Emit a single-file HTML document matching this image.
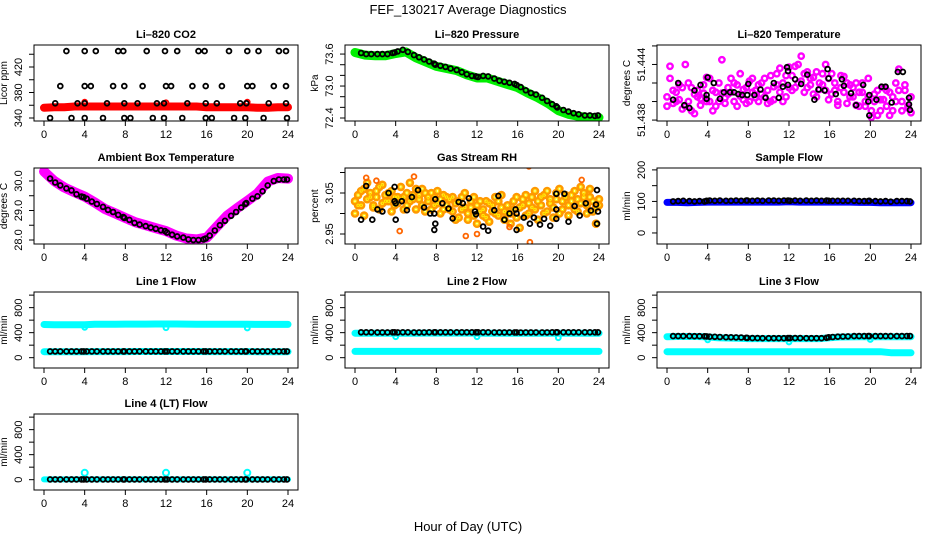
<!DOCTYPE html>
<html><head><meta charset="utf-8"><style>
body{margin:0;background:#fff;}
svg{display:block;font-family:"Liberation Sans",sans-serif;}
</style></head><body>
<svg id="c" width="936" height="540" viewBox="0 0 936 540">
<text x="468" y="14" text-anchor="middle" font-size="13">FEF_130217  Average Diagnostics</text>
<text x="468" y="531" text-anchor="middle" font-size="13">Hour of Day (UTC)</text>
</svg>
<script>
// ---------- data ----------
const hours=[0,1,2,3,4,5,6,7,8,9,10,11,12,13,14,15,16,17,18,19,20,21,22,23,24];
const xTicks=[0,4,8,12,16,20,24];
const blackT=[0.6,1.1,1.6,2.2,2.7,3.2,3.7,3.9,4.2,4.7,5.2,5.8,6.3,6.8,7.3,7.8,7.9,8.4,8.9,9.4,10.0,10.5,11.0,11.5,11.9,12.1,12.6,13.1,13.7,14.2,14.7,15.2,15.7,15.9,16.3,16.8,17.3,17.8,18.4,18.9,19.4,19.8,19.9,20.5,21.0,21.5,22.0,22.6,23.1,23.6,23.9];
const cloudT=[0,0.3,0.6,0.9,1.2,1.5,1.8,2.1,2.4,2.7,3.0,3.3,3.6,3.9,4.2,4.5,4.8,5.1,5.4,5.7,6.0,6.3,6.6,6.9,7.2,7.5,7.8,8.1,8.4,8.7,9.0,9.3,9.6,9.9,10.2,10.5,10.8,11.1,11.4,11.7,12.0,12.3,12.6,12.9,13.2,13.5,13.8,14.1,14.4,14.7,15.0,15.3,15.6,15.9,16.2,16.5,16.8,17.1,17.4,17.7,18.0,18.3,18.6,18.9,19.2,19.5,19.8,20.1,20.4,20.7,21.0,21.3,21.6,21.9,22.2,22.5,22.8,23.1,23.4,23.7,24.0];
const dipT=[4,12,20];

// CO2
const co2Red=[356,357,357,358,358,358,358,358,358,358,358,358,358,358,358,358,357,357,357,357,357,356,356,357,357];
const co2RedOutV=[365,364,365];
const co2BlkT=[2.2,4,5.1,7.3,7.8,10.1,11.9,13.1,15.2,15.8,18.2,20,21.1,23.1,23.8, 1.6,4,4.6,6.8,7.9,9.7,12,12.5,14.6,15.9,17.5,20,20.5,22.6,23.8, 1.1,3.3,4,6.2,7.9,9.2,11.1,11.8,14.1,15.9,17,19.3,19.9,22.1,23.8, 0.6,2.7,4,5.8,7.9,8.5,10.7,11.8,13.6,15.9,16.5,18.7,19.8,21.6,23.9];
const co2BlkV=[445,445,445,445,445,445,445,445,445,445,445,445,445,445,445, 390,390,390,390,390,390,390,390,390,390,390,390,390,390,390, 363,363,363,363,363,363,363,363,363,363,363,363,363,363,363, 340,340,340,340,340,340,340,340,340,340,340,340,340,340,340];
// Pressure
const presGreen=[73.63,73.58,73.57,73.57,73.61,73.64,73.53,73.45,73.37,73.33,73.29,73.21,73.15,73.15,73.09,73.03,72.97,72.87,72.78,72.67,72.54,72.47,72.43,72.41,72.41];
const presBlk=[73.62,73.60,73.60,73.60,73.60,73.60,73.62,73.63,73.65,73.68,73.64,73.58,73.54,73.50,73.46,73.42,73.40,73.38,73.36,73.33,73.30,73.26,73.22,73.19,73.18,73.17,73.19,73.18,73.14,73.10,73.08,73.06,73.04,73.02,72.98,72.92,72.87,72.84,72.78,72.72,72.66,72.62,72.60,72.55,72.52,72.49,72.47,72.45,72.45,72.44,72.45];
// Li-820 temperature
const tempMagA=[51.4405,51.4425,51.4398,51.4410,51.4402,51.4415,51.4395,51.4420,51.4390,51.4408,51.4412,
51.4403,51.4418,51.4426,51.4400,51.4412,51.4395,51.4420,51.4409,51.4404,51.4415,
51.4425,51.4400,51.4418,51.4406,51.4413,51.4398,51.4422,51.4410,51.4404,51.4418,
51.4408,51.4425,51.4412,51.4400,51.4416,51.4430,51.4410,51.4420,51.4405,51.4437,
51.4428,51.4415,51.4440,51.4422,51.4410,51.4432,51.4418,51.4426,51.4405,51.4420,
51.4430,51.4412,51.4425,51.4408,51.4420,51.4400,51.4415,51.4427,51.4398,51.4418,
51.4405,51.4420,51.4395,51.4410,51.4400,51.4425,51.4390,51.4408,51.4385,51.4402,
51.4415,51.4395,51.4410,51.4390,51.4420,51.4435,51.4400,51.4412,51.4393,51.4405];
const tempMagB=[51.4395,51.4438,51.4412,51.4400,51.4418,51.4392,51.4440,51.4400,51.4415,51.4387,51.4405,
51.4396,51.4409,51.4400,51.4425,51.4390,51.4410,51.4400,51.4445,51.4398,51.4408,
51.4410,51.4420,51.4395,51.4430,51.4402,51.4415,51.4400,51.4425,51.4412,51.4400,
51.4420,51.4405,51.4398,51.4428,51.4402,51.4418,51.4436,51.4400,51.4428,51.4415,
51.4412,51.4438,51.4420,51.4449,51.4430,51.4415,51.4425,51.4408,51.4432,51.4413,
51.4418,51.4440,51.4402,51.4430,51.4412,51.4396,51.4428,51.4410,51.4420,51.4405,
51.4415,51.4396,51.4410,51.4420,51.4395,51.4405,51.4383,51.4400,51.4412,51.4390,
51.4402,51.4412,51.4385,51.4405,51.4400,51.4412,51.4390,51.4418,51.4395,51.4388];
const tempBlkT=[0.6,1.1,1.7,2.2,2.7,3.3,3.9,3.9,4.0,4.6,5.2,5.6,6.2,6.6,7.0,7.4,7.9,8.0,8.6,9.2,9.7,10.5,11.0,11.4,11.8,11.9,11.9,12.6,13.2,13.8,14.5,14.9,15.5,15.8,15.9,16.6,17.2,17.4,18.1,18.6,19.3,19.9,19.8,19.9,20.6,21.1,21.5,22.1,22.7,23.2,23.8,23.8,23.9];
const tempBlkV=[51.4402,51.4420,51.4396,51.4393,51.4412,51.4418,51.4407,51.4403,51.4426,51.4420,51.4403,51.4410,51.4410,51.4410,51.4408,51.4407,51.4407,51.4419,51.4407,51.4413,51.4404,51.4420,51.4404,51.4416,51.4437,51.4433,51.4418,51.4424,51.4419,51.4429,51.4402,51.4413,51.4412,51.4435,51.4425,51.4408,51.4424,51.4417,51.4409,51.4396,51.4418,51.4407,51.4400,51.4385,51.4402,51.4416,51.4416,51.4399,51.4432,51.4432,51.4397,51.4404,51.4391];
// Ambient box temperature
const ambMag=[30.32,30.0,29.78,29.62,29.47,29.27,29.05,28.9,28.75,28.6,28.5,28.4,28.3,28.15,28.05,28.02,28.08,28.45,28.82,29.08,29.32,29.58,29.98,30.1,30.08];
const ambBlk=[30.08,29.95,29.85,29.75,29.68,29.55,29.47,29.45,29.40,29.30,29.22,29.12,29.02,28.95,28.85,28.78,28.75,28.68,28.58,28.52,28.47,28.42,28.38,28.33,28.30,28.25,28.18,28.12,28.08,28.02,28.0,28.0,28.02,28.05,28.15,28.32,28.50,28.65,28.82,28.95,29.10,29.22,29.25,29.40,29.48,29.65,29.85,30.0,30.05,30.05,30.05];
// Gas stream RH
const rhOrA=[3.030,3.045,3.020,3.060,3.035,3.050,3.015,3.040,3.065,3.025,3.045,
3.030,3.055,3.020,3.040,3.035,3.010,3.050,3.030,3.045,3.060,
3.035,3.020,3.050,3.030,3.010,3.040,3.025,3.000,3.045,3.020,
3.035,3.005,3.025,2.990,3.040,3.015,3.000,3.030,2.995,3.020,
3.030,3.010,2.990,3.025,3.005,3.040,2.995,3.015,2.985,3.020,
3.000,3.030,2.990,3.015,3.035,2.995,3.025,3.040,3.010,3.030,
3.020,3.045,3.005,3.035,3.015,3.050,3.000,3.030,3.040,3.020,
3.045,3.010,3.035,3.025,3.050,3.000,3.040,3.030,3.015,3.035];
const rhOrB=[3.000,3.020,3.055,2.995,3.075,3.040,3.020,3.055,3.010,3.070,3.030,
3.050,3.005,3.040,3.025,3.065,3.040,3.020,3.075,3.035,3.010,
3.045,3.060,3.005,3.040,3.050,3.020,3.055,3.035,3.010,3.040,
3.010,3.040,2.985,3.030,3.010,3.050,2.985,3.015,3.040,2.975,
3.005,2.995,3.030,2.980,3.020,3.000,3.030,3.045,3.005,3.000,
2.975,3.010,3.040,2.965,3.020,3.045,3.000,3.015,3.055,2.985,
3.040,3.000,3.055,3.025,2.990,3.035,3.060,3.010,3.045,2.995,
3.030,3.055,3.005,3.065,3.040,3.020,3.060,3.005,2.975,3.020];
const rhOutT=[1.1,2.1,5.8,4.4,10.9,12.0,17.1,17.2,22.3,15.2];
const rhOutV=[3.087,3.080,3.090,2.957,2.945,2.950,3.115,2.930,3.082,2.967];
const rhBlkT=[0.6,1.1,1.7,2.2,2.7,3.3,3.9,3.9,4.0,4.0,4.6,5.1,5.6,6.2,6.8,7.4,7.8,7.9,7.9,7.8,8.6,9.2,9.6,10.2,10.6,11.2,11.8,11.9,12.6,13.1,13.7,14.1,14.7,15.2,15.8,15.9,15.9,16.6,17.2,17.6,18.2,18.6,19.2,19.8,19.8,19.8,20.6,21.0,21.6,22.1,22.7,23.2,23.7,23.8,23.9,23.8];
const rhBlkV=[2.985,3.067,2.985,3.010,3.005,3.050,3.065,3.030,3.025,2.985,3.030,3.008,3.040,3.057,3.015,3.000,3.000,3.035,2.975,2.960,3.025,3.012,2.988,3.028,3.025,3.037,3.005,2.998,2.968,2.958,3.008,3.043,2.985,3.000,3.010,2.960,3.000,2.990,2.975,2.990,2.973,2.987,2.970,3.048,3.010,2.987,3.048,2.980,3.018,2.995,3.025,3.007,3.022,3.057,3.005,2.975];
// Sample flow
const sampBlue=[97,97,96,97,98,98,98,98,98,98,98,98,99,98,98,98,98,98,98,97,97,96,96,96,96];
const sampBlk=[100,101,102,101,100,101,100,102,103,102,103,102,102,103,102,103,103,102,103,102,103,103,102,103,103,102,103,102,103,102,103,102,103,102,102,102,102,102,102,101,101,101,102,101,100,101,99,101,101,101,100];
// Line 1
const l1Hi=[530,528,528,528,528,535,535,535,537,537,537,538,538,538,537,536,536,535,534,534,533,532,532,532,532];
const l1Lo=[95,96,96,96,96,97,97,97,97,98,98,98,98,98,98,98,97,97,97,97,97,96,96,96,96];
const l1DipV=[485,480,475];
const l1Blk=[100,101,101,100,100,101,101,100,101,101,100,100,101,101,100,101,101,100,101,100,100,101,101,100,101,101,100,101,100,101,100,101,100,101,100,101,100,101,100,101,100,101,100,101,100,101,100,101,100,101,100];
// Line 2
const l2Hi=[392,392,392,392,392,392,392,393,393,393,393,393,393,392,392,392,392,392,392,392,392,392,392,392,392];
const l2Lo=[100,100,100,100,100,100,100,101,101,101,101,101,101,101,101,101,101,101,101,100,100,100,100,100,100];
const l2DipV=[335,335,320];
const l2Blk=[405,405,405,404,404,404,405,405,404,405,405,404,404,404,405,405,405,405,405,405,405,405,405,405,405,405,405,405,404,404,404,404,404,404,402,404,404,404,404,404,405,405,405,405,405,405,405,405,405,405,405];
// Line 3
const l3Hi=[335,338,338,338,332,318,315,310,305,305,305,305,305,305,305,305,318,330,332,335,335,335,335,335,335];
const l3Lo=[95,95,95,95,95,95,95,95,96,96,96,96,96,96,96,96,96,96,96,96,96,95,80,78,78];
const l3DipV=[285,250,290];
const l3Blk=[345,345,345,345,344,344,342,340,336,333,330,328,326,324,322,318,316,313,313,312,312,312,312,312,313,313,313,313,312,312,312,312,318,325,330,335,338,340,345,345,345,345,345,345,345,345,345,345,345,346,346];
// Line 4
const l4Cy=[5,5,5,5,5,5,5,5,5,5,5,5,5,5,5,5,5,5,5,5,5,5,5,5,5];
const l4SpikeV=[110,110,110];
const l4Blk=[5,5,5,5,5,5,5,5,5,5,5,5,5,5,5,5,5,5,5,5,5,5,5,5,5,5,5,5,5,5,5,5,5,5,5,5,5,5,5,5,5,5,5,5,5,5,5,5,5,5,5];

const flowTicks=[0,200,400,600,800,1000], flowLabels=[0,400,800];

// ---------- drawing ----------
const NS='http://www.w3.org/2000/svg';
const svg=document.getElementById('c');
const colL=[34,345,657], rowT=[45,168,292,414], W=264, H=76;
function mk(tag,attrs,parent){const e=document.createElementNS(NS,tag);for(const k in attrs)e.setAttribute(k,attrs[k]);(parent||svg).appendChild(e);return e;}

function panel(name,col,row,title,ylab,dom,ticks,labels,fmt,series){
  const L=colL[col],T=rowT[row];
  const g=mk('g',{});
  
  
  const xs=t=>L+10+t*(W-20)/24;
  const ys=v=>T+H-(v-dom[0])/(dom[1]-dom[0])*H;
  const clip='cl'+name;
  const cp=mk('clipPath',{id:clip},g);mk('rect',{x:L,y:T,width:W,height:H},cp);
  const pg=mk('g',{'clip-path':'url(#'+clip+')'},g);
  
  
  for(const s of series){
    const sg=mk('g',{},pg);
    
    
    if(s.band){
      const pts=s.t.map((t,i)=>xs(t).toFixed(1)+','+ys(s.v[i]).toFixed(1)).join(' ');
      const pl=mk('polyline',{points:pts,fill:'none',stroke:s.color,'stroke-width':s.band,'stroke-linejoin':'round','stroke-linecap':'round'},sg);
      
      
    }
    if(s.pts!==false){
      s.t.forEach((t,i)=>{
        const c=mk('circle',{cx:xs(t).toFixed(1),cy:ys(s.v[i]).toFixed(1),r:s.r||2.4,fill:'none',stroke:s.color,'stroke-width':s.sw||1.8},sg);
        
        
      });
    }
  }
  mk('rect',{x:L,y:T,width:W,height:H,fill:'none',stroke:'#000','stroke-width':1},g);
  const xa=mk('g',{},g);
  
  
  mk('line',{x1:xs(0),x2:xs(24),y1:T+H,y2:T+H,stroke:'#000'},xa);
  xTicks.forEach(t=>{
    mk('line',{x1:xs(t),x2:xs(t),y1:T+H,y2:T+H+5,stroke:'#000'},xa);
    const tx=mk('text',{x:xs(t),y:T+H+17,'text-anchor':'middle','font-size':11},xa);
    tx.textContent=t;
    
    
  });
  const ya=mk('g',{},g);
  
  
  mk('line',{x1:L,x2:L,y1:ys(ticks[0]),y2:ys(ticks[ticks.length-1]),stroke:'#000'},ya);
  ticks.forEach(v=>mk('line',{x1:L-5,x2:L,y1:ys(v),y2:ys(v),stroke:'#000'},ya));
  labels.forEach(v=>{
    const x=L-12,y=ys(v);
    const tx=mk('text',{x:x,y:y,'text-anchor':'middle','font-size':11,transform:'rotate(-90 '+x+' '+y+')'},ya);
    tx.textContent=fmt(v);
    
    
  });
  const yx=L-27,yy=T+H/2;
  const yt=mk('text',{x:yx,y:yy,'text-anchor':'middle','font-size':10,transform:'rotate(-90 '+yx+' '+yy+')'},g);
  yt.textContent=ylab;
  
  
  const tt=mk('text',{x:L+W/2,y:T-7,'text-anchor':'middle','font-size':11,'font-weight':'bold'},g);
  tt.textContent=title;
  
  
}
const d0=v=>String(v), d1=v=>v.toFixed(1), d2=v=>v.toFixed(2), d3=v=>v.toFixed(3);
const K='#000';
panel('co2',0,0,'Li–820 CO2','Licor ppm',[335.3,454.5],[340,360,380,400,420,440],[340,380,420],d0,[
 {name:'red',t:hours,v:co2Red,color:'#ff0000',band:8,pts:false},
 {name:'red-out',t:dipT,v:co2RedOutV,color:'#ff0000'},
 {name:'black',t:co2BlkT,v:co2BlkV,color:K}]);
panel('pressure',1,0,'Li–820 Pressure','kPa',[72.344,73.77],[72.4,72.6,72.8,73.0,73.2,73.4,73.6],[72.4,73.0,73.6],d1,[
 {name:'green',t:hours,v:presGreen,color:'#00ee00',band:9,pts:false},
 {name:'black',t:blackT,v:presBlk,color:K}]);
panel('temp',2,0,'Li–820 Temperature','degrees C',[51.4379,51.4461],[51.438,51.440,51.442,51.444,51.446],[51.438,51.444],d3,[
 {name:'magenta-a',t:cloudT,v:tempMagA,color:'#ff00ff',r:2.7,sw:2.4},
 {name:'magenta-b',t:cloudT,v:tempMagB,color:'#ff00ff',r:2.7,sw:2.4},
 {name:'black',t:tempBlkT,v:tempBlkV,color:K}]);
panel('ambient',0,1,'Ambient Box Temperature','degrees C',[27.864,30.44],[28,28.5,29,29.5,30],[28,29,30],d1,[
 {name:'magenta',t:hours,v:ambMag,color:'#ff00ff',band:10,pts:false},
 {name:'black',t:blackT,v:ambBlk,color:K}]);
panel('rh',1,1,'Gas Stream RH','percent',[2.9256,3.111],[2.95,3.0,3.05,3.1],[2.95,3.05],d2,[
 {name:'orange-a',t:cloudT,v:rhOrA,color:'#ff9900',r:3,sw:2.6},
 {name:'orange-b',t:cloudT,v:rhOrB,color:'#ff9900',r:3,sw:2.6},
 {name:'yellow-a',t:cloudT,v:rhOrA,color:'#ffee00',r:1.2,sw:1},
 {name:'yellow-b',t:cloudT,v:rhOrB,color:'#ffee00',r:1.2,sw:1},
 {name:'outliers',t:rhOutT,v:rhOutV,color:'#ff6600'},
 {name:'black',t:rhBlkT,v:rhBlkV,color:K}]);
panel('sample',2,1,'Sample Flow','ml/min',[-35,206],[0,50,100,150,200],[0,100,200],d0,[
 {name:'blue',t:hours,v:sampBlue,color:'#0000ff',band:7,pts:false},
 {name:'black',t:blackT,v:sampBlk,color:K}]);
panel('line1',0,2,'Line 1 Flow','ml/min',[-165,1050],flowTicks,flowLabels,d0,[
 {name:'cyan-high',t:hours,v:l1Hi,color:'#00ffff',band:7,pts:false},
 {name:'cyan-dips',t:dipT,v:l1DipV,color:'#00ffff',sw:2},
 {name:'cyan-low',t:hours,v:l1Lo,color:'#00ffff',band:7,pts:false},
 {name:'black',t:blackT,v:l1Blk,color:K}]);
panel('line2',1,2,'Line 2 Flow','ml/min',[-165,1050],flowTicks,flowLabels,d0,[
 {name:'cyan-high',t:hours,v:l2Hi,color:'#00ffff',band:7,pts:false},
 {name:'cyan-dips',t:dipT,v:l2DipV,color:'#00ffff',sw:2},
 {name:'cyan-low',t:hours,v:l2Lo,color:'#00ffff',band:7,pts:false},
 {name:'black',t:blackT,v:l2Blk,color:K}]);
panel('line3',2,2,'Line 3 Flow','ml/min',[-165,1050],flowTicks,flowLabels,d0,[
 {name:'cyan-high',t:hours,v:l3Hi,color:'#00ffff',band:7,pts:false},
 {name:'cyan-dips',t:dipT,v:l3DipV,color:'#00ffff',sw:2},
 {name:'cyan-low',t:hours,v:l3Lo,color:'#00ffff',band:7,pts:false},
 {name:'black',t:blackT,v:l3Blk,color:K}]);
panel('line4',0,3,'Line 4 (LT) Flow','ml/min',[-165,1050],flowTicks,flowLabels,d0,[
 {name:'cyan',t:hours,v:l4Cy,color:'#00ffff',band:6,pts:false},
 {name:'cyan-spikes',t:dipT,v:l4SpikeV,color:'#00ffff',r:3,sw:2},
 {name:'black',t:blackT,v:l4Blk,color:K}]);
</script>
</body></html>
